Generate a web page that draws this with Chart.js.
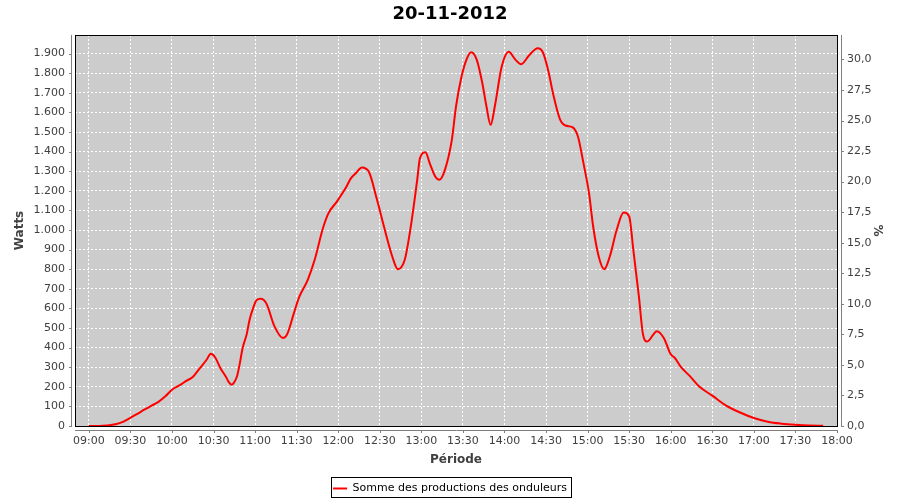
<!DOCTYPE html>
<html>
<head>
<meta charset="utf-8">
<script src="https://cdn.jsdelivr.net/npm/chart.js@4/dist/chart.umd.min.js"></script>
<style>
html,body{margin:0;padding:0;background:#ffffff;}
canvas{display:block;}
</style>
</head>
<body>
<canvas id="c" width="900" height="500"></canvas>
<script>
const chartTitle = '20-11-2012';
const seriesName = 'Somme des productions des onduleurs';
const xTitle = 'Période';
const leftTitle = 'Watts';
const rightTitle = '%';

const times = ['09:00','09:05','09:10','09:15','09:20','09:25','09:30','09:35','09:40','09:45','09:50','09:55',
  '10:00','10:06','10:10','10:15','10:20','10:25','10:28','10:31','10:35','10:39','10:41','10:43','10:45','10:47','10:49','10:51','10:54','10:56','10:59',
  '11:01','11:04','11:08','11:14','11:20','11:23','11:28','11:32','11:38','11:43','11:49','11:53','11:59',
  '12:06','12:09','12:13','12:17','12:22','12:28','12:33','12:39','12:43','12:48','12:52','12:57','12:59',
  '13:03','13:06','13:10','13:13','13:17','13:22','13:25','13:29','13:33','13:36','13:40','13:44','13:47','13:50','13:53','13:58',
  '14:03','14:08','14:12','14:18','14:24','14:28','14:32','14:35','14:40','14:44','14:49','14:53','14:57',
  '15:01','15:04','15:08','15:12','15:16','15:21','15:26','15:30','15:33','15:37','15:40','15:43','15:50','15:55',
  '16:00','16:03','16:07','16:14','16:21','16:30','16:40','16:50',
  '17:00','17:10','17:20','17:30','17:40','17:50'];

const watts = [0,0,1,4,10,22,42,62,83,103,122,150,
  185,210,229,250,294,338,369,352,295,250,224,210,224,255,321,398,470,542,610,
  642,649,627,508,449,466,576,661,746,848,1010,1086,1145,
  1222,1262,1292,1319,1298,1154,1018,865,800,848,1001,1256,1367,
  1397,1341,1273,1256,1307,1460,1630,1783,1877,1907,1868,1749,1630,1536,1630,1834,
  1910,1868,1846,1893,1927,1902,1800,1698,1566,1533,1525,1477,1341,
  1188,1018,865,800,865,1001,1089,1069,899,661,466,431,484,449,
  366,347,304,253,199,155,104,69,
  41,22,12,6,2,1];

const xTickLabels = ['09:00','09:30','10:00','10:30','11:00','11:30','12:00','12:30','13:00','13:30',
  '14:00','14:30','15:00','15:30','16:00','16:30','17:00','17:30','18:00'];
const leftTicks = [0,100,200,300,400,500,600,700,800,900,1000,1100,1200,1300,1400,1500,1600,1700,1800,1900];
const rightTicks = [0,2.5,5,7.5,10,12.5,15,17.5,20,22.5,25,27.5,30];

const xRange = ['08:50','18:00'];
const leftMax = 1995;
const rightMax = 32;

function toMin(s){ const p = s.split(':'); return Number(p[0])*60 + Number(p[1]); }
function fmtTime(v){ const h = Math.floor(v/60), m = Math.round(v%60); return String(h).padStart(2,'0')+':'+String(m).padStart(2,'0'); }
function fmtWatts(v){ return v >= 1000 ? Math.floor(v/1000)+'.'+String(v%1000).padStart(3,'0') : String(v); }
function fmtPct(v){ return Number(v).toFixed(1).replace('.',','); }

const FONT = 'DejaVu Sans';
const TICKCOL = '#404040';
const AXISCOL = '#808080';

const plotDecor = {
  id: 'plotDecor',
  beforeDraw(chart){
    const {ctx, chartArea: a} = chart;
    ctx.save();
    ctx.fillStyle = '#cccccc';
    ctx.fillRect(a.left, a.top, a.right - a.left + 1, a.bottom - a.top + 1);
    ctx.restore();
  },
  afterDraw(chart){
    const {ctx, chartArea: a, scales} = chart;
    ctx.save();
    ctx.strokeStyle = '#000000';
    ctx.lineWidth = 1;
    ctx.strokeRect(a.left + 0.5, a.top + 0.5, a.right - a.left, a.bottom - a.top);
    ctx.strokeStyle = AXISCOL;
    ctx.beginPath();
    const lx = a.left - 3.5, rx = a.right + 4.5, by = a.bottom + 4.5;
    ctx.moveTo(lx, a.top); ctx.lineTo(lx, a.bottom + 1);
    ctx.moveTo(rx, a.top); ctx.lineTo(rx, a.bottom + 1);
    ctx.moveTo(a.left, by); ctx.lineTo(a.right + 1, by);
    scales.y.ticks.forEach(t => {
      const py = Math.round(scales.y.getPixelForValue(t.value)) + 0.5;
      ctx.moveTo(lx - 2.5, py); ctx.lineTo(lx, py);
    });
    scales.y1.ticks.forEach(t => {
      const py = Math.round(scales.y1.getPixelForValue(t.value)) + 0.5;
      ctx.moveTo(rx, py); ctx.lineTo(rx + 2.5, py);
    });
    scales.x.ticks.forEach(t => {
      const px = Math.round(scales.x.getPixelForValue(t.value)) + 0.5;
      ctx.moveTo(px, by); ctx.lineTo(px, by + 2.5);
    });
    ctx.stroke();
    const lg = chart.legend;
    if (lg && lg.legendHitBoxes && lg.legendHitBoxes.length){
      const hb = lg.legendHitBoxes[0];
      ctx.strokeStyle = '#000000';
      const x0 = Math.round(hb.left - 2) + 0.5;
      const x1 = Math.round(hb.left + hb.width + 4) + 0.5;
      const y0 = Math.round(hb.top - 6) + 0.5;
      const y1 = Math.round(hb.top + hb.height + 3) + 0.5;
      ctx.strokeRect(x0, y0, x1 - x0, y1 - y0);
    }
    ctx.restore();
  }
};

const tickFont = {family: FONT, size: 11};
const titleFont = {family: FONT, size: 12, weight: 'bold', lineHeight: 1.2};

new Chart(document.getElementById('c'), {
  type: 'line',
  data: {
    datasets: [{
      label: seriesName,
      data: times.map((t, i) => ({x: toMin(t), y: watts[i]})),
      borderColor: '#ff0000',
      backgroundColor: '#ff0000',
      borderWidth: 2,
      pointRadius: 0,
      cubicInterpolationMode: 'monotone',
      fill: false,
      yAxisID: 'y',
      xAxisID: 'x'
    }]
  },
  options: {
    responsive: false,
    animation: false,
    devicePixelRatio: 1,
    layout: {padding: {left: 0, right: 0, top: 0, bottom: -4}},
    plugins: {
      title: {
        display: true, text: chartTitle, color: '#000000',
        font: {family: FONT, size: 18, weight: 'bold', lineHeight: '23px'},
        padding: {top: 3, bottom: 9}
      },
      legend: {
        position: 'bottom',
        labels: {
          boxWidth: 14, boxHeight: 2, padding: 6, color: '#000000',
          font: {family: FONT, size: 11},
          generateLabels: chart => Chart.defaults.plugins.legend.labels.generateLabels(chart).map(l => Object.assign({}, l, {lineWidth: 0}))
        }
      },
      tooltip: {enabled: false}
    },
    scales: {
      x: {
        type: 'linear', position: 'bottom',
        min: toMin(xRange[0]), max: toMin(xRange[1]),
        afterBuildTicks: s => { s.ticks = xTickLabels.map(l => ({value: toMin(l)})); },
        ticks: {callback: v => fmtTime(v), padding: 3, maxRotation: 0, autoSkip: false, font: tickFont, color: TICKCOL},
        grid: {color: '#ffffff', lineWidth: 1, tickLength: 6, tickColor: 'rgba(0,0,0,0)'},
        border: {display: false, dash: [2, 2]},
        title: {display: true, text: xTitle, color: TICKCOL, font: titleFont, padding: {top: 0, bottom: 10}},
        afterFit: s => { s.height = 51; }
      },
      y: {
        type: 'linear', position: 'left',
        min: 0, max: leftMax,
        afterBuildTicks: s => { s.ticks = leftTicks.map(v => ({value: v})); },
        ticks: {callback: v => fmtWatts(v), padding: 4, font: tickFont, color: TICKCOL},
        grid: {color: '#ffffff', lineWidth: 1, tickLength: 6, tickColor: 'rgba(0,0,0,0)'},
        border: {display: false, dash: [2, 2]},
        title: {display: true, text: leftTitle, color: TICKCOL, font: titleFont, padding: {top: 13, bottom: 0}},
        afterFit: s => { s.width = 75; }
      },
      y1: {
        type: 'linear', position: 'right', display: true,
        min: 0, max: rightMax,
        afterBuildTicks: s => { s.ticks = rightTicks.map(v => ({value: v})); },
        ticks: {callback: v => fmtPct(v), padding: 4, font: tickFont, color: TICKCOL},
        grid: {drawOnChartArea: false, tickLength: 6, tickColor: 'rgba(0,0,0,0)'},
        border: {display: false},
        title: {display: true, text: rightTitle, color: TICKCOL, font: titleFont, padding: {top: 16, bottom: 0}},
        afterFit: s => { s.width = 63; }
      }
    }
  },
  plugins: [plotDecor]
});
</script>
</body>
</html>
